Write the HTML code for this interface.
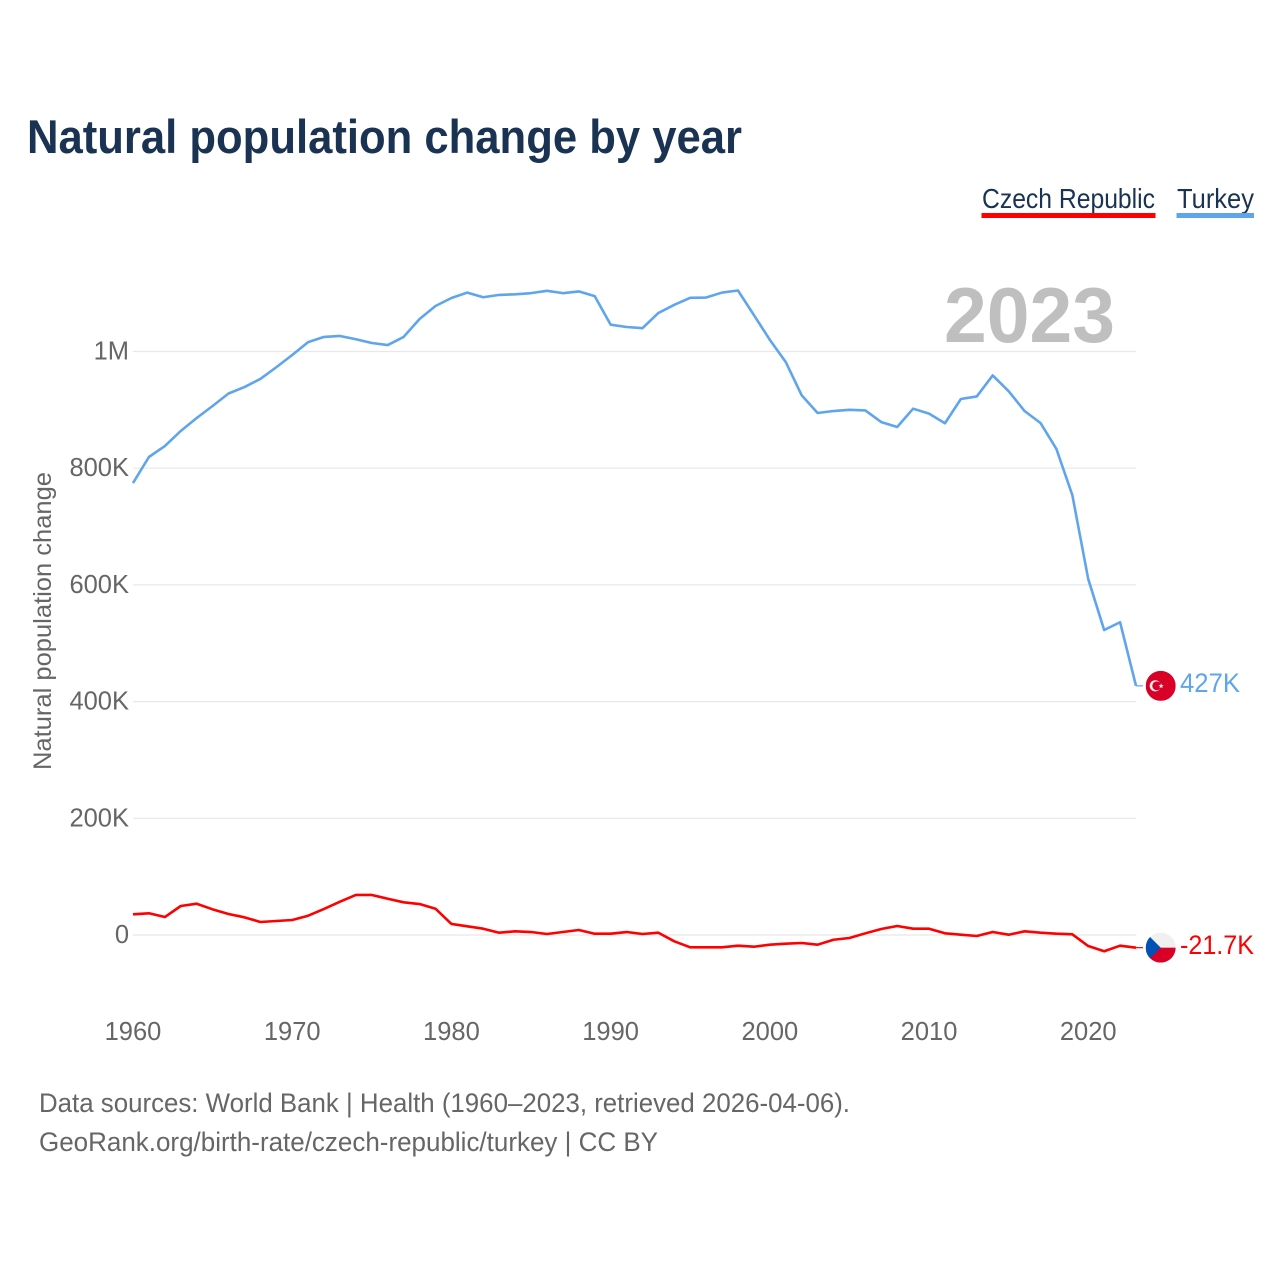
<!DOCTYPE html>
<html lang="en">
<head>
<meta charset="utf-8">
<title>Natural population change by year</title>
<style>
html,body{margin:0;padding:0;background:#fff;}
svg{display:block;}
text{font-family:"Liberation Sans",sans-serif;}
</style>
</head>
<body>
<svg id="chart" width="1280" height="1280" viewBox="0 0 1280 1280" xmlns="http://www.w3.org/2000/svg">
  <defs>
    <clipPath id="flag-clip"><circle cx="0" cy="0" r="15"></circle></clipPath>
  </defs>
  <rect x="0" y="0" width="1280" height="1280" fill="#ffffff"></rect>
  <text x="27" y="153" font-size="47" font-weight="700" fill="#1a3353" textLength="715" lengthAdjust="spacingAndGlyphs">Natural population change by year</text>

  <g>
    <text x="982" y="208" font-size="28" fill="#1a3353" textLength="173" lengthAdjust="spacingAndGlyphs">Czech Republic</text>
    <rect x="981.5" y="213" width="174" height="5" fill="#ff0000"></rect>
  </g>
  <g>
    <text x="1177" y="208" font-size="28" fill="#1a3353" textLength="77" lengthAdjust="spacingAndGlyphs">Turkey</text>
    <rect x="1176.5" y="213" width="77.5" height="5" fill="#5fa5ec"></rect>
  </g>

  <text transform="translate(51,621) rotate(-90)" text-anchor="middle" font-size="25" fill="#666666" textLength="298" lengthAdjust="spacingAndGlyphs">Natural population change</text>

  <g id="grid"></g>
  <g id="y-ticks"></g>
  <g id="x-ticks"></g>

  <text x="944" y="342" font-size="78" font-weight="700" fill="#bfbfbf" textLength="171" lengthAdjust="spacingAndGlyphs">2023</text>

  <g id="series"></g>

  <g id="flag-turkey">
    <g clip-path="url(#flag-clip)">
      <rect x="-15" y="-15" width="30" height="30" fill="#d80027"></rect>
      <circle cx="-5.4" cy="0" r="5.6" fill="#f0f0f0"></circle>
      <circle cx="-3.9" cy="0" r="4.5" fill="#d80027"></circle>
      <polygon points="3.4,-2.5 4.1,-0.7 6,-0.7 4.5,0.5 5,2.4 3.4,1.3 1.8,2.4 2.3,0.5 0.8,-0.7 2.7,-0.7" fill="#f0f0f0" transform="translate(-3,0)"></polygon>
    </g>
  </g>
  <g id="flag-czech">
    <g clip-path="url(#flag-clip)">
      <rect x="-15" y="-15" width="30" height="15" fill="#f0f0f0"></rect>
      <rect x="-15" y="0" width="30" height="15" fill="#d80027"></rect>
      <polygon points="-15,-15 0,0 -15,15" fill="#0052b4"></polygon>
    </g>
  </g>
  <text id="label-turkey" x="1180" font-size="26.5" fill="#5fa5ec" textLength="60" lengthAdjust="spacingAndGlyphs">427K</text>
  <text id="label-czech" x="1180" font-size="26.5" fill="#ff0000" textLength="74" lengthAdjust="spacingAndGlyphs">-21.7K</text>

  <text x="39" y="1112" font-size="27" fill="#666666" textLength="811" lengthAdjust="spacingAndGlyphs">Data sources: World Bank | Health (1960–2023, retrieved 2026-04-06).</text>
  <text x="39" y="1151" font-size="27" fill="#666666" textLength="619" lengthAdjust="spacingAndGlyphs">GeoRank.org/birth-rate/czech-republic/turkey | CC BY</text>
</svg>
<script>
const firstYear = 1960;
const turkeyValues = [774.6,819.2,838,863.8,886,906.6,928,939,953,973,994,1016,1025,1026.6,1021,1014.6,1011,1025,1055.7,1078,
  1091.7,1101,1093,1097,1098,1100,1104,1100,1103,1095,1046,1042,1040,1066,1080,1092,1092.5,1101,1104.5,1062.5,
  1020,982,925,894.6,898,900,899,879,870.6,902,893.5,877,918.6,923,959,932,898,877.5,833,754,610,522.7,536,427];
const czechValues = [35.5,37.2,30.8,49.7,53.6,44,36,30.3,22.3,24,25.7,33,44.6,57,68.6,68.6,62.2,56,53.1,45,
  18.9,14.9,10.8,3.9,6.3,5.1,1.7,5.1,8.6,2.2,2.2,5.1,1.7,3.9,-10.8,-21.1,-21.1,-21.1,-18.3,-20.1,
  -16.6,-14.9,-13.7,-16.6,-8.1,-5.1,2.9,10.3,15.4,10.8,10.8,2.9,0.5,-1.7,5.1,0.5,6.3,3.9,2.2,1.2,-18.9,-27.9,-18.3,-21.7];
const yTickValues = [0,200,400,600,800,1000];
const yTickLabels = ["0","200K","400K","600K","800K","1M"];
const xTickYears = [1960,1970,1980,1990,2000,2010,2020];

const NS = "http://www.w3.org/2000/svg";
const plotLeft = 133, plotRight = 1136, zeroY = 935, pxPerK = 0.5835;
const lastYear = firstYear + turkeyValues.length - 1;
function xScale(year){ return plotLeft + (year - firstYear) * (plotRight - plotLeft) / 63; }
function yScale(k){ return zeroY - k * pxPerK; }

const gridGroup = document.getElementById("grid");
const yTickGroup = document.getElementById("y-ticks");
const xTickGroup = document.getElementById("x-ticks");
const seriesGroup = document.getElementById("series");

yTickValues.forEach(function(v, i){
  const line = document.createElementNS(NS, "line");
  
  
  line.setAttribute("x1", plotLeft);
  line.setAttribute("x2", plotRight);
  line.setAttribute("y1", yScale(v));
  line.setAttribute("y2", yScale(v));
  line.setAttribute("stroke", "#e8e8e8");
  line.setAttribute("stroke-width", "1.2");
  gridGroup.appendChild(line);

  const label = document.createElementNS(NS, "text");
  
  
  label.setAttribute("x", 129);
  label.setAttribute("y", yScale(v) + 8);
  label.setAttribute("text-anchor", "end");
  label.setAttribute("font-size", "25.5");
  label.setAttribute("fill", "#666666");
  label.textContent = yTickLabels[i];
  yTickGroup.appendChild(label);
});

xTickYears.forEach(function(year){
  const label = document.createElementNS(NS, "text");
  
  
  label.setAttribute("x", xScale(year));
  label.setAttribute("y", 1040);
  label.setAttribute("text-anchor", "middle");
  label.setAttribute("font-size", "25.5");
  label.setAttribute("fill", "#666666");
  label.textContent = String(year);
  xTickGroup.appendChild(label);
});

function linePoints(values){
  return values.map(function(v, i){
    return xScale(firstYear + i).toFixed(2) + "," + yScale(v).toFixed(2);
  }).join(" ");
}

const czechLine = document.createElementNS(NS, "polyline");


czechLine.setAttribute("points", linePoints(czechValues));
czechLine.setAttribute("fill", "none");
czechLine.setAttribute("stroke", "#ff0000");
czechLine.setAttribute("stroke-width", "2.6");
czechLine.setAttribute("stroke-linejoin", "round");
seriesGroup.appendChild(czechLine);

const turkeyLine = document.createElementNS(NS, "polyline");


turkeyLine.setAttribute("points", linePoints(turkeyValues));
turkeyLine.setAttribute("fill", "none");
turkeyLine.setAttribute("stroke", "#5fa5ec");
turkeyLine.setAttribute("stroke-width", "2.6");
turkeyLine.setAttribute("stroke-linejoin", "round");
seriesGroup.appendChild(turkeyLine);

const czechConnector = document.createElementNS(NS, "line");


czechConnector.setAttribute("x1", xScale(lastYear));
czechConnector.setAttribute("x2", 1143);
czechConnector.setAttribute("y1", yScale(czechValues[czechValues.length - 1]));
czechConnector.setAttribute("y2", yScale(czechValues[czechValues.length - 1]));
czechConnector.setAttribute("stroke", "#ff0000");
czechConnector.setAttribute("stroke-width", "1.2");
seriesGroup.appendChild(czechConnector);

const turkeyConnector = document.createElementNS(NS, "line");


turkeyConnector.setAttribute("x1", xScale(lastYear));
turkeyConnector.setAttribute("x2", 1143);
turkeyConnector.setAttribute("y1", yScale(turkeyValues[turkeyValues.length - 1]));
turkeyConnector.setAttribute("y2", yScale(turkeyValues[turkeyValues.length - 1]));
turkeyConnector.setAttribute("stroke", "#5fa5ec");
turkeyConnector.setAttribute("stroke-width", "1.2");
seriesGroup.appendChild(turkeyConnector);

const turkeyEndY = yScale(turkeyValues[turkeyValues.length - 1]);
const czechEndY = yScale(czechValues[czechValues.length - 1]);
document.getElementById("flag-turkey").setAttribute("transform", "translate(1160.7," + turkeyEndY + ")");
document.getElementById("flag-czech").setAttribute("transform", "translate(1160.7," + czechEndY + ")");
document.getElementById("label-turkey").setAttribute("y", turkeyEndY + 6);
document.getElementById("label-czech").setAttribute("y", czechEndY + 6.5);
</script>
</body>
</html>
